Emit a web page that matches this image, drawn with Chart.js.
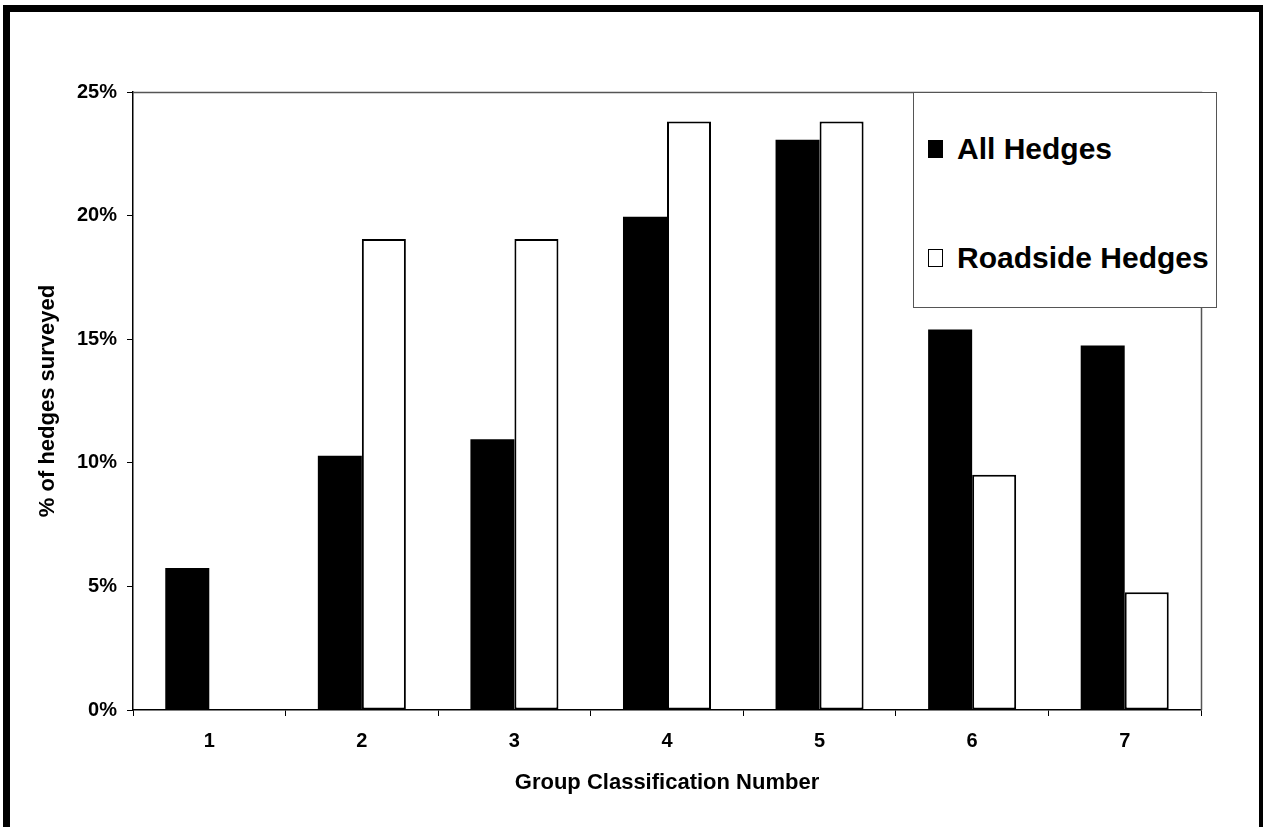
<!DOCTYPE html>
<html>
<head>
<meta charset="utf-8">
<script src="https://cdn.jsdelivr.net/npm/chart.js@4/dist/chart.umd.min.js"></script>
<style>
  html, body { margin: 0; padding: 0; background: #fff; overflow: hidden; }
  #wrap { position: relative; width: 1263px; height: 827px; }
  #frame {
    position: absolute; left: 3px; top: 5px; width: 1263px; height: 900px;
    box-sizing: border-box; border: 7px solid #000; pointer-events: none;
  }
  #legend {
    position: absolute; left: 913px; top: 92px; width: 304px; height: 216px;
    box-sizing: border-box; border: 1px solid #555; background: #fff;
    font-family: "Liberation Sans", Arial, sans-serif; font-weight: bold; font-size: 30px;
    color: #000;
  }
  .item { position: absolute; left: 14px; display: flex; align-items: center; white-space: nowrap; }
  .swatch { width: 15px; height: 18px; box-sizing: border-box; border: 1.5px solid #000; margin-right: 14px; }
</style>
</head>
<body>
<div id="wrap">
  <canvas id="c" width="1263" height="827"></canvas>
  <div id="legend"></div>
  <div id="frame"></div>
</div>
<script>
// Group classification numbers along the x axis
const groups = ['1', '2', '3', '4', '5', '6', '7'];
// Share of hedges (%) falling in each group
const allHedges = [5.74, 10.29, 10.95, 19.95, 23.07, 15.39, 14.75];
const roadsideHedges = [0, 19.05, 19.05, 23.81, 23.81, 9.52, 4.76];
// Percentage axis ticks
const yTicks = [0, 5, 10, 15, 20, 25];

const seriesNames = ['All Hedges', 'Roadside Hedges'];
const FONT = '"Liberation Sans", Arial, sans-serif';

// Thin frame along the top and right of the plotting area
const plotFrame = {
  id: 'plotFrame',
  beforeDatasetsDraw(chart) {
    const a = chart.chartArea, ctx = chart.ctx;
    ctx.save();
    ctx.strokeStyle = '#555';
    ctx.lineWidth = 1.5;
    ctx.beginPath();
    ctx.moveTo(a.left, a.top + 0.5);
    ctx.lineTo(a.right + 0.5, a.top + 0.5);
    ctx.lineTo(a.right + 0.5, a.bottom);
    ctx.stroke();
    ctx.restore();
  }
};

const chart = new Chart(document.getElementById('c'), {
  type: 'bar',
  data: {
    labels: groups,
    datasets: [
      { label: seriesNames[0], data: allHedges, backgroundColor: '#000', borderColor: '#000', borderWidth: 0 },
      { label: seriesNames[1], data: roadsideHedges, backgroundColor: '#fff', borderColor: '#000', borderWidth: 2, borderSkipped: false }
    ]
  },
  options: {
    responsive: false,
    animation: false,
    devicePixelRatio: 1,
    layout: { padding: { left: 35, top: 92, right: 62, bottom: 31 } },
    datasets: { bar: { categoryPercentage: 0.577, barPercentage: 1.0 } },
    plugins: { legend: { display: false }, tooltip: { enabled: false } },
    scales: {
      x: {
        afterFit(s) { s.height = 86; },
        grid: { offset: true, drawOnChartArea: false, tickLength: 6, color: '#000', lineWidth: 1 },
        border: { color: '#000', width: 1.5 },
        ticks: { color: '#000', padding: 13, font: { family: FONT, size: 20, weight: 'bold' } },
        title: { display: true, text: 'Group Classification Number', color: '#000', padding: 0,
                 font: { family: FONT, size: 22, weight: 'bold' } }
      },
      y: {
        min: 0, max: 25,
        afterFit(s) { s.width = 98; },
        afterBuildTicks(s) { s.ticks = yTicks.map(v => ({ value: v })); },
        grid: { drawOnChartArea: false, tickLength: 6, color: '#000', lineWidth: 1 },
        border: { color: '#000', width: 1.5 },
        ticks: { color: '#000', padding: 10, callback: v => v + '%',
                 font: { family: FONT, size: 20, weight: 'bold' } },
        title: { display: true, text: '% of hedges surveyed', color: '#000', padding: 0,
                 font: { family: FONT, size: 22, weight: 'bold' } }
      }
    }
  },
  plugins: [plotFrame]
});

// Legend box built from the chart's own datasets
const legend = document.getElementById('legend');
const rowCenters = [56, 165];
chart.data.datasets.forEach((ds, i) => {
  const row = document.createElement('div');
  row.className = 'item';
  row.style.top = (rowCenters[i] - 17) + 'px';
  row.style.height = '34px';
  const sw = document.createElement('span');
  sw.className = 'swatch';
  sw.style.background = ds.backgroundColor;
  const tx = document.createElement('span');
  tx.textContent = ds.label;
  row.appendChild(sw);
  row.appendChild(tx);
  legend.appendChild(row);
});
</script>
</body>
</html>
